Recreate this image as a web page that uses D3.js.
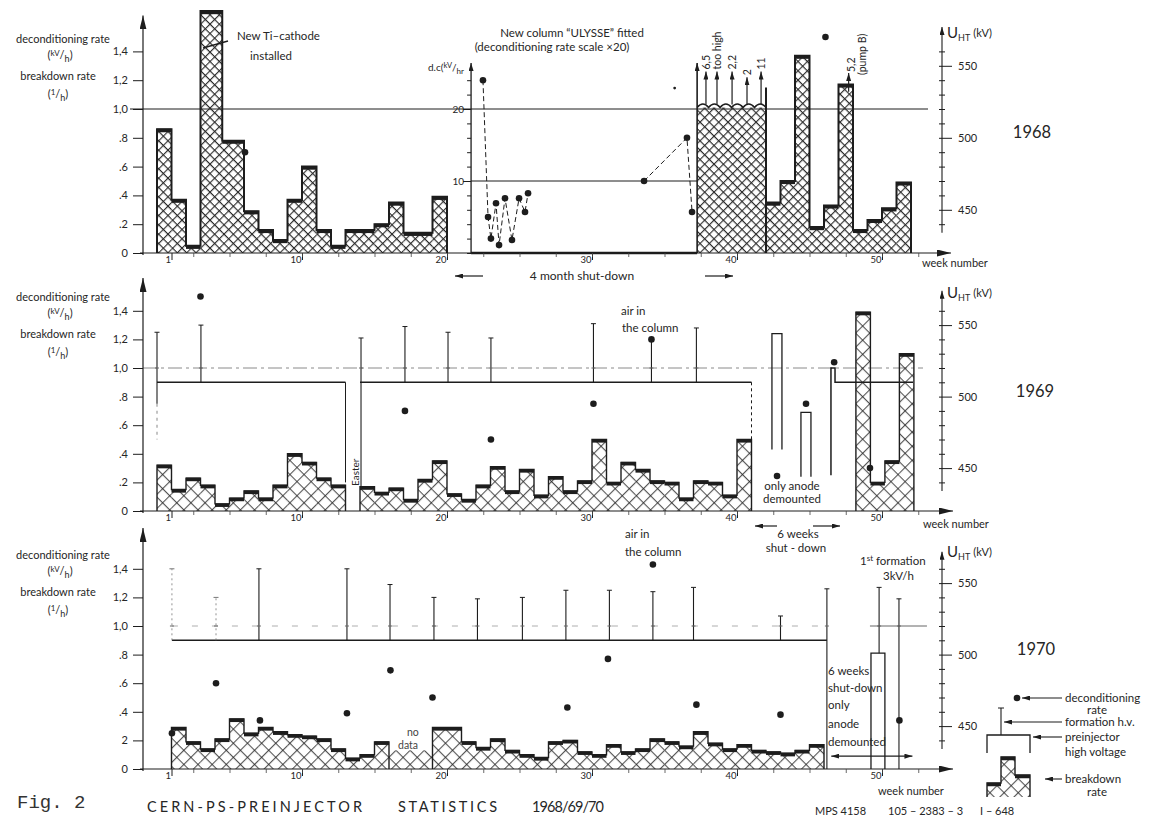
<!DOCTYPE html>
<html><head><meta charset="utf-8">
<script src="https://cdn.jsdelivr.net/npm/d3@7"></script>
<style>
html,body{margin:0;padding:0;background:#fff;}
svg{display:block;font-family:Lato,"Open Sans",sans-serif;}
</style></head><body>
<svg id="c" width="1154" height="820"></svg>
<script>
// ================= DATA =================
const yTickVals = [0, 0.2, 0.4, 0.6, 0.8, 1.0, 1.2, 1.4];
const yTickLabels = ["0", ".2", ".4", ".6", ".8", "1,0", "1,2", "1,4"];
const yTickLabels70 = ["0", "2", ".4", ".6", ".8", "1,0", "1,2", "1,4"];
const xTickVals = [1, 10, 20, 30, 40, 50];
const kvTickVals = [440, 450, 460, 470, 480, 490, 500, 510, 520, 530, 540, 550, 560];
const kvLabelVals = [450, 500, 550];

// ---- 1968 breakdown rate (bars: week from / to / rate 1/h)
const from68 = [0, 1, 2, 3, 4.5, 6, 7, 8, 9, 10, 11, 12, 13, 14, 15, 16, 17, 19, 42, 43, 44, 45, 46, 47, 48, 49, 50, 51];
const to68   = [1, 2, 3, 4.5, 6, 7, 8, 9, 10, 11, 12, 13, 14, 15, 16, 17, 19, 20, 43, 44, 45, 46, 47, 48, 49, 50, 51, 52];
const rate68 = [0.86, 0.37, 0.05, 1.68, 0.78, 0.29, 0.16, 0.09, 0.37, 0.60, 0.16, 0.05, 0.16, 0.16, 0.20, 0.35, 0.14, 0.39,
                0.35, 0.50, 1.37, 0.18, 0.33, 1.17, 0.16, 0.23, 0.31, 0.49];
const block68 = [37.25, 42, 1.01, 1.32, 1.15];          // from, to, rate (off scale), left-edge top, right-edge top
const arrow68Weeks = [37.86, 38.62, 39.66, 40.69, 41.66];
const arrow68Tops = [1.26, 1.26, 1.26, 1.22, 1.26];
const arrow68Labels = ["6,5", "too high", "2,2", "2", "11"];
const pump68 = [47.7, 1.12, 1.25];                      // week, arrow from, arrow to
const dot68Weeks = [6.07, 46.1];
const dot68Vals = [0.70, 1.50];
// ULYSSE column deconditioning rate (kV/h, scale x20)
const dcWeeks1 = [22.48, 22.83, 23.03, 23.38, 23.59, 24.0, 24.48, 24.97, 25.38, 25.59];
const dcVals1  = [24, 5, 2, 6.9, 1.1, 7.6, 1.8, 7.6, 5.7, 8.3];
const dcWeeks2 = [33.59, 36.55, 36.9];
const dcVals2  = [10, 16, 5.7];
const dcAxisWeek = 21.66;
const dcTicks = [0, 2, 4, 6, 8, 10, 12, 14, 16, 18, 20, 22, 24];

// ---- 1969
const from69 = [0, 1, 2, 3, 4, 5, 6, 7, 8, 9, 10, 11, 12, 14, 15, 16, 17, 18, 19,
                20, 21, 22, 23, 24, 25, 26, 27, 28, 29, 30, 31, 32, 33, 34, 35, 36, 37, 38, 39, 40,
                48.2, 49.2, 50.2, 51.2];
const to69   = [1, 2, 3, 4, 5, 6, 7, 8, 9, 10, 11, 12, 13, 15, 16, 17, 18, 19, 20,
                21, 22, 23, 24, 25, 26, 27, 28, 29, 30, 31, 32, 33, 34, 35, 36, 37, 38, 39, 40, 41,
                49.2, 50.2, 51.2, 52.2];
const rate69 = [0.32, 0.15, 0.23, 0.18, 0.05, 0.09, 0.14, 0.09, 0.18, 0.40, 0.34, 0.23, 0.18,
                0.17, 0.13, 0.16, 0.08, 0.22, 0.35,
                0.12, 0.08, 0.18, 0.31, 0.14, 0.29, 0.11, 0.24, 0.14, 0.21, 0.50, 0.20, 0.34, 0.29, 0.21, 0.20, 0.09, 0.21, 0.20, 0.11, 0.50,
                1.39, 0.20, 0.35, 1.10];
const hv69From = [0, 14];
const hv69To = [13, 41];
const hv69Rate = [0.9, 0.9];
const hvStep69Weeks = [46.48, 46.48, 46.76, 46.76, 52.14];
const hvStep69Rates = [0.25, 1.0, 1.0, 0.9, 0.9];
const form69Weeks = [0, 3.03, 14.07, 17.1, 20.07, 23.03, 30.1, 34.1, 37.2];
const form69Top = [1.25, 1.30, 1.21, 1.29, 1.25, 1.21, 1.31, 1.20, 1.28];
const form69Bottom = [0.75, 0.9, 0.17, 0.9, 0.9, 0.9, 0.9, 0.9, 0.9];
const open69From = [42.41, 44.41];
const open69To = [43.1, 45.1];
const open69Top = [1.24, 0.69];
const open69Bottom = [0.43, 0.24];
const dot69Weeks = [3.0, 17.1, 23.03, 30.1, 34.1, 42.76, 44.76, 46.7, 49.17];
const dot69Vals = [1.50, 0.70, 0.50, 0.75, 1.20, 0.245, 0.75, 1.04, 0.30];

// ---- 1970
const from70 = [1, 2, 3, 4, 5, 6, 7, 8, 9, 10, 11, 12, 13, 14, 15, 19,
                21, 22, 23, 24, 25, 26, 27, 28, 29, 30, 31, 32, 33, 34, 35, 36, 37, 38, 39, 40, 41, 42, 43, 44, 45];
const to70   = [2, 3, 4, 5, 6, 7, 8, 9, 10, 11, 12, 13, 14, 15, 16, 21,
                22, 23, 24, 25, 26, 27, 28, 29, 30, 31, 32, 33, 34, 35, 36, 37, 38, 39, 40, 41, 42, 43, 44, 45, 46];
const rate70 = [0.29, 0.19, 0.14, 0.21, 0.35, 0.25, 0.29, 0.26, 0.24, 0.23, 0.21, 0.14, 0.075, 0.10, 0.19, 0.29,
                0.19, 0.15, 0.21, 0.13, 0.10, 0.08, 0.19, 0.20, 0.12, 0.10, 0.17, 0.12, 0.14, 0.21, 0.19, 0.16, 0.26,
                0.18, 0.14, 0.17, 0.13, 0.12, 0.11, 0.13, 0.17];
const noData70 = [16, 19, 0.13];
const hv70 = [1.03, 46.2, 0.9];
const form70Weeks = [1.03, 4.07, 7.03, 13.1, 16.07, 19.1, 22.1, 25.2, 28.2, 31.2, 34.2, 37.0, 43.0, 46.2, 49.8, 51.17];
const form70Top = [1.40, 1.20, 1.40, 1.40, 1.29, 1.20, 1.19, 1.20, 1.25, 1.25, 1.24, 1.27, 1.07, 1.26, 1.27, 1.19];
const form70Bottom = [0.9, 0.9, 0.9, 0.9, 0.9, 0.9, 0.9, 0.9, 0.9, 0.9, 0.9, 0.9, 0.9, 0, 0.81, 0];
const open70 = [49.24, 50.2, 0.81];
const ref70Right = [49.17, 53.1];
const dot70Weeks = [1.03, 4.07, 7.1, 13.1, 16.1, 19.0, 28.3, 31.1, 34.2, 37.2, 43.0, 51.2];
const dot70Vals = [0.25, 0.60, 0.34, 0.39, 0.69, 0.50, 0.43, 0.77, 1.43, 0.45, 0.38, 0.34];
const shut70Arrow = [46.5, 52.1, 0.09];

// ================= DRAWING =================
const INK = "#1d1d1d";
const TXT = "#262626";
const svg = d3.select("#c");
svg.append("rect").attr("width", 1154).attr("height", 820).attr("fill", "#fff");
const defs = svg.append("defs");

function hatch(id, w, sw) {
  defs.append("pattern").attr("id", id).attr("patternUnits", "userSpaceOnUse")
    .attr("width", w).attr("height", w).attr("patternTransform", "rotate(45)")
    .append("path").attr("d", `M0,0.6 H${w} M0.6,0 V${w}`)
    .attr("stroke", "#2a2a2a").attr("stroke-width", sw).attr("fill", "none");
}
hatch("h1", 6.6, 1.1);
hatch("h2", 10, 0.9);

function marker(id, w, h) {
  defs.append("marker").attr("id", id).attr("markerUnits", "userSpaceOnUse")
    .attr("markerWidth", w).attr("markerHeight", h).attr("refX", w).attr("refY", h / 2)
    .attr("orient", "auto-start-reverse")
    .append("path").attr("d", `M0,0 L${w},${h / 2} L0,${h} Z`).attr("fill", INK);
}
marker("ax", 14, 7);
marker("sm", 8, 5);

const x = d3.scaleLinear().domain([0, 53]).range([157, 925.5]);
const y68 = d3.scaleLinear().domain([0, 1]).range([253, 109]);
const y69 = d3.scaleLinear().domain([0, 1]).range([511, 368]);
const y70 = d3.scaleLinear().domain([0, 1]).range([769, 626]);

const g = svg.append("g");

function txt(px, py, s, size, anchor, extra) {
  const t = g.append("text").attr("x", px).attr("y", py).attr("font-size", size)
    .attr("fill", TXT).attr("text-anchor", anchor || "start").text(s);
  if (extra) extra(t);
  return t;
}
function rtxt(px, py, s, size) {
  return g.append("text").attr("transform", `translate(${px},${py}) rotate(-90)`)
    .attr("font-size", size).attr("fill", TXT).text(s);
}
function line(x1, y1, x2, y2, w, extra) {
  const l = g.append("line").attr("x1", x1).attr("y1", y1).attr("x2", x2).attr("y2", y2)
    .attr("stroke", INK).attr("stroke-width", w || 1);
  if (extra) extra(l);
  return l;
}

function bars(y, from, to, rate, pat, sw) {
  const gb = g.append("g");
  gb.selectAll("rect.f").data(rate).join("rect").attr("class", "f")
    .attr("x", (d, i) => x(from[i])).attr("width", (d, i) => x(to[i]) - x(from[i]))
    .attr("y", d => y(d)).attr("height", d => y(0) - y(d)).attr("fill", `url(#${pat})`);
  const p = d3.path();
  rate.forEach((v, i) => {
    if (i === 0 || from[i] !== to[i - 1]) {
      if (i > 0) p.lineTo(x(to[i - 1]), y(0));
      p.moveTo(x(from[i]), y(0));
    }
    p.lineTo(x(from[i]), y(v));
    p.lineTo(x(to[i]), y(v));
  });
  p.lineTo(x(to[to.length - 1]), y(0));
  gb.append("path").attr("d", p.toString()).attr("fill", "none").attr("stroke", INK)
    .attr("stroke-width", sw).attr("stroke-linejoin", "miter");
  gb.selectAll("rect.c").data(rate).join("rect").attr("class", "c")
    .attr("x", (d, i) => x(from[i])).attr("width", (d, i) => x(to[i]) - x(from[i]))
    .attr("y", d => y(d) - 0.5).attr("height", 3.6).attr("fill", INK);
}

function dots(y, weeks, vals, r) {
  g.append("g").selectAll("circle").data(vals).join("circle")
    .attr("cx", (d, i) => x(weeks[i])).attr("cy", d => y(d)).attr("r", r || 3.3).attr("fill", INK);
}

function formation(y, weeks, tops, bottoms, dottedCount) {
  weeks.forEach((w, i) => {
    const faint = i < (dottedCount || 0);
    line(x(w), y(bottoms[i]), x(w), y(tops[i]), faint ? 0.8 : 1.1, l => {
      if (faint) l.attr("stroke-dasharray", "2,3").attr("stroke", "#777");
    });
    line(x(w) - 2.5, y(tops[i]), x(w) + 2.5, y(tops[i]), 1, l => { if (faint) l.attr("stroke", "#777"); });
    if (tops[i] > 1.02 && bottoms[i] < 0.98)
      line(x(w) - 2, y(1), x(w) + 2, y(1), 1, l => l.attr("stroke", "#666"));
  });
}

function kvLabel(t) {
  t.append("tspan").attr("font-size", 15).text("U");
  t.append("tspan").attr("font-size", 9).attr("dy", 3).text("HT");
  t.append("tspan").attr("font-size", 11).attr("dy", -4).attr("dx", 3).text("(kV)");
}

function leftLabels(y0) {
  txt(63, y0 - 210, "deconditioning rate", 11, "middle");
  txt(60, y0 - 194, "", 11, "middle", t => {
    t.append("tspan").text("(");
    t.append("tspan").attr("font-size", 8).attr("dy", -3).text("kV");
    t.append("tspan").attr("dy", 3).text("/");
    t.append("tspan").attr("font-size", 9).attr("dy", 3).text("h");
    t.append("tspan").attr("dy", -3).text(")");
  });
  txt(58, y0 - 173, "breakdown rate", 11, "middle");
  txt(58, y0 - 155, "", 11, "middle", t => {
    t.append("tspan").text("(");
    t.append("tspan").attr("font-size", 8).attr("dy", -3).text("1");
    t.append("tspan").attr("dy", 3).text("/");
    t.append("tspan").attr("font-size", 9).attr("dy", 3).text("h");
    t.append("tspan").attr("dy", -3).text(")");
  });
}

function axes(y, labels, yTop, kvTop, wnX, wnY, uhtY, xEnd) {
  const kv = d3.scaleLinear().domain([420, 520]).range(y.range());
  const z = y(0);
  // left axis
  const la = g.append("g").attr("transform", "translate(143,0)")
    .call(d3.axisLeft(y).tickValues(yTickVals).tickFormat((d, i) => labels[i]).tickSize(10).tickPadding(5));
  la.select(".domain").remove();
  la.selectAll("line").attr("stroke", INK);
  la.selectAll("text").attr("font-size", 11).attr("fill", TXT).attr("font-family", "Lato");
  line(143, z + 2, 143, y(yTop), 1.2, l => l.attr("marker-end", "url(#ax)"));
  // bottom axis
  line(140, z, xEnd, z, 1.2, l => l.attr("marker-end", "url(#ax)"));
  const ba = g.append("g").attr("transform", `translate(0,${z})`)
    .call(d3.axisBottom(x).tickValues(xTickVals).tickSize(7).tickPadding(1));
  ba.select(".domain").remove();
  ba.selectAll("line").attr("stroke", INK);
  ba.selectAll("text").attr("font-size", 9.5).attr("fill", TXT).attr("text-anchor", "end")
    .attr("y", 3).attr("dx", -1).attr("font-family", "Lato");
  const mi = g.append("g").attr("transform", `translate(0,${z})`)
    .call(d3.axisBottom(x).tickValues(d3.range(2.5, 53, 2.5)).tickSize(4).tickFormat(""));
  mi.select(".domain").remove();
  mi.selectAll("line").attr("stroke", "#444").attr("stroke-width", 0.8);
  // right kV axis
  const ra = g.append("g").attr("transform", "translate(942,0)")
    .call(d3.axisRight(kv).tickValues(kvTickVals).tickSize(3).tickPadding(13)
      .tickFormat(d => kvLabelVals.includes(d) ? d : ""));
  ra.select(".domain").remove();
  ra.selectAll(".tick line").attr("stroke", INK)
    .attr("x1", -3).attr("x2", d => kvLabelVals.includes(d) ? 10 : 3);
  ra.selectAll("text").attr("font-size", 11).attr("fill", TXT).attr("font-family", "Lato");
  line(942, kv(434), 942, kv(kvTop), 1.1, l => l.attr("marker-end", "url(#sm)"));
  txt(947, uhtY, "", 15, "start", kvLabel);
  txt(wnX, wnY, "week number", 11, "start");
  leftLabels(z);
}

// ---------------- 1968 ----------------
(function () {
  const y = y68;
  const yDc = d3.scaleLinear().domain([0, 20]).range([253, 109]);
  line(130, y(1), 928, y(1), 1);
  g.append("rect").attr("x", x(block68[0])).attr("width", x(block68[1]) - x(block68[0]))
    .attr("y", y(block68[2])).attr("height", y(0) - y(block68[2])).attr("fill", "url(#h1)");
  const sc = d3.path();
  const nB = 6, bw = (x(block68[1]) - x(block68[0])) / nB;
  sc.moveTo(x(block68[0]), y(block68[2]));
  for (let i = 0; i < nB; i++) {
    const xa = x(block68[0]) + i * bw;
    sc.quadraticCurveTo(xa + bw / 2, y(block68[2]) - 7, xa + bw, y(block68[2]));
  }
  g.append("path").attr("d", sc.toString()).attr("fill", "none").attr("stroke", INK).attr("stroke-width", 1.5);
  line(x(block68[0]), y(0), x(block68[0]), y(block68[3]), 1.6, l => l.attr("marker-end", "url(#sm)"));
  line(x(block68[1]), y(0), x(block68[1]), y(block68[4]), 2);
  arrow68Weeks.forEach((w, i) => {
    line(x(w), y(block68[2]) - 3, x(w), y(arrow68Tops[i]), 1.2, l => l.attr("marker-end", "url(#sm)"));
    rtxt(x(w) + 4, y(arrow68Tops[i]) - 2, arrow68Labels[i], 10.5);
  });
  bars(y, from68, to68, rate68, "h1", 2);
  line(x(pump68[0]), y(pump68[1]), x(pump68[0]), y(pump68[2]), 1.2, l => l.attr("marker-end", "url(#sm)"));
  rtxt(x(pump68[0]) + 6, y(pump68[2]) - 1, "5,2", 10.5);
  rtxt(x(pump68[0]) + 17, y(pump68[2]) + 2, "(pump B)", 10.5);
  dots(y, dot68Weeks, dot68Vals);

  const xa = x(dcAxisWeek);
  line(xa, y(0), xa, yDc(26.4), 1.3, l => l.attr("marker-end", "url(#sm)"));
  const da = g.append("g").attr("transform", `translate(${xa},0)`)
    .call(d3.axisLeft(yDc).tickValues(dcTicks).tickSize(4)
      .tickFormat(d => (d === 10 || d === 20) ? d : ""));
  da.select(".domain").remove();
  da.selectAll("line").attr("stroke", INK);
  da.selectAll(".tick").filter(d => d === 10 || d === 20).select("line").attr("x2", -8);
  da.selectAll("text").attr("font-size", 10).attr("fill", TXT).attr("x", -7).attr("font-family", "Lato");
  line(xa, yDc(10), x(block68[0]), yDc(10), 1);
  line(xa, y(0), x(block68[0]), y(0), 2.6);
  txt(428, 71, "", 10, "start", t => {
    t.append("tspan").text("d.c(");
    t.append("tspan").attr("font-size", 7.5).attr("dy", -3).text("kV");
    t.append("tspan").attr("dy", 3).text("/");
    t.append("tspan").attr("font-size", 8).attr("dy", 3).text("hr");
  });
  const dl = d3.line().x(d => x(d[0])).y(d => yDc(d[1]));
  g.append("path").attr("d", dl(dcWeeks1.map((w, i) => [w, dcVals1[i]])))
    .attr("fill", "none").attr("stroke", INK).attr("stroke-dasharray", "5,3").attr("stroke-width", 1);
  g.append("path").attr("d", dl(dcWeeks2.map((w, i) => [w, dcVals2[i]])))
    .attr("fill", "none").attr("stroke", INK).attr("stroke-dasharray", "5,3").attr("stroke-width", 1);
  dots(yDc, dcWeeks1, dcVals1);
  dots(yDc, dcWeeks2, dcVals2);
  g.append("circle").attr("cx", x(35.7)).attr("cy", yDc(22.9)).attr("r", 1.4).attr("fill", INK);

  axes(y, yTickLabels, 1.65, 577, 922, 267, 38, 951);
  txt(1032, 138, "1968", 16.5, "middle");
  txt(237, 40, "New Ti\u2013cathode", 11.5);
  txt(250, 60, "installed", 11.5);
  line(203, 48, 228, 41, 1.3);
  txt(572, 37, "New  column  \u201CULYSSE\u201D  fitted", 11.5, "middle");
  txt(552, 51, "(deconditioning  rate  scale  \u00D720)", 11.5, "middle");
  txt(582, 280, "4 month shut-down", 12, "middle");
  line(483, 276, 455, 276, 1.2, l => l.attr("marker-end", "url(#sm)"));
  line(705, 276, 733, 276, 1.2, l => l.attr("marker-end", "url(#sm)"));
})();

// ---------------- 1969 ----------------
(function () {
  const y = y69;
  line(143, y(1), 923, y(1), 1, l => l.attr("stroke", "#8a8a8a").attr("stroke-dasharray", "14,4,3,4"));
  bars(y, from69, to69, rate69, "h2", 1.4);
  hv69From.forEach((f, i) => line(x(f), y(hv69Rate[i]), x(hv69To[i]), y(hv69Rate[i]), 1.5));
  line(x(hv69To[0]), y(0.9), x(hv69To[0]), y(0.2), 1);
  line(x(hv69To[1]), y(0.9), x(hv69To[1]), y(0.5), 1, l => l.attr("stroke-dasharray", "3,3"));
  line(x(form69Weeks[0]), y(0.75), x(form69Weeks[0]), y(0.5), 1, l => l.attr("stroke-dasharray", "3,4").attr("stroke", "#888"));
  const sl = d3.line().x(d => x(d[0])).y(d => y(d[1]));
  g.append("path").attr("d", sl(hvStep69Weeks.map((w, i) => [w, hvStep69Rates[i]])))
    .attr("fill", "none").attr("stroke", INK).attr("stroke-width", 1.5);
  formation(y, form69Weeks, form69Top, form69Bottom, 0);
  open69From.forEach((f, i) => {
    g.append("path").attr("d", `M${x(f)},${y(open69Bottom[i])} V${y(open69Top[i])} H${x(open69To[i])} V${y(open69Bottom[i])}`)
      .attr("fill", "none").attr("stroke", INK).attr("stroke-width", 1.3);
  });
  dots(y, dot69Weeks, dot69Vals);
  axes(y, yTickLabels, 1.63, 574, 923, 528, 298, 953);
  txt(1035, 397, "1969", 16.5, "middle");
  rtxt(359, 486, "Easter", 10);
  txt(621, 315, "air  in", 11.5);
  txt(622, 332, "the  column", 11.5);
  txt(792, 490, "only anode", 11.5, "middle");
  txt(792, 503, "demounted", 11.5, "middle");
  txt(798, 538, "6 weeks", 11.5, "middle");
  txt(796, 552, "shut - down", 11.5, "middle");
  line(777, 526, 755, 526, 1.2, l => l.attr("marker-end", "url(#sm)"));
  line(813, 526, 840, 526, 1.2, l => l.attr("marker-end", "url(#sm)"));
})();

// ---------------- 1970 ----------------
(function () {
  const y = y70;
  line(x(hv70[0]), y(1), x(hv70[1]), y(1), 0.8, l => l.attr("stroke", "#9a9a9a").attr("stroke-dasharray", "6,14"));
  line(x(ref70Right[0]), y(1), x(ref70Right[1]), y(1), 0.9, l => l.attr("stroke", "#555"));
  g.append("rect").attr("x", x(noData70[0])).attr("width", x(noData70[1]) - x(noData70[0]))
    .attr("y", y(noData70[2])).attr("height", y(0) - y(noData70[2])).attr("fill", "url(#h2)");
  bars(y, from70, to70, rate70, "h2", 1.4);
  line(x(hv70[0]), y(hv70[2]), x(hv70[1]), y(hv70[2]), 1.5);
  formation(y, form70Weeks, form70Top, form70Bottom, 2);
  g.append("path").attr("d", `M${x(open70[0])},${y(0)} V${y(open70[2])} H${x(open70[1])} V${y(0)}`)
    .attr("fill", "none").attr("stroke", INK).attr("stroke-width", 1.3);
  dots(y, dot70Weeks, dot70Vals);
  line(x(shut70Arrow[0]), y(shut70Arrow[2]), x(shut70Arrow[1]), y(shut70Arrow[2]), 1.3,
    l => l.attr("marker-end", "url(#sm)").attr("marker-start", "url(#sm)"));
  axes(y, yTickLabels70, 1.685, 572, 878, 795, 557, 953);
  txt(1036, 655, "1970", 16.5, "middle");
  txt(407, 736, "no", 10.5, "start", t => t.attr("fill", "#444"));
  txt(398, 749, "data", 10.5, "start", t => t.attr("fill", "#444"));
  txt(625, 538, "air  in", 11.5);
  txt(625, 556, "the  column", 11.5);
  txt(860, 565, "", 11.5, "start", t => {
    t.append("tspan").text("1");
    t.append("tspan").attr("font-size", 8).attr("dy", -4).text("st");
    t.append("tspan").attr("dy", 4).text(" formation");
  });
  txt(883, 580, "3kV/h", 11.5);
  ["6 weeks", "shut-down", "only", "anode", "demounted"].forEach((s, i) =>
    txt(828, [675, 692, 709, 728, 746][i], s, 11.5));
})();

// ---------------- legend ----------------
(function () {
  g.append("circle").attr("cx", 1017).attr("cy", 698).attr("r", 3.3).attr("fill", INK);
  line(1062, 698, 1022, 698, 1.1, l => l.attr("marker-end", "url(#sm)"));
  txt(1065, 702, "deconditioning", 11.5);
  txt(1097, 714, "rate", 11.5, "middle");
  line(1001, 735, 1001, 708, 1.1);
  line(998, 708, 1004, 708, 1);
  line(1062, 722, 1004, 722, 1.1, l => l.attr("marker-end", "url(#sm)"));
  txt(1065, 726, "formation h.v.", 11.5);
  g.append("path").attr("d", "M987,753 V735 H1030 V753").attr("fill", "none").attr("stroke", INK).attr("stroke-width", 1.3);
  line(1062, 737, 1033, 737, 1.1, l => l.attr("marker-end", "url(#sm)"));
  txt(1065, 741, "preinjector", 11.5);
  txt(1065, 756, "high voltage", 11.5);
  g.append("path").attr("d", "M987,797 V783 H1001 V757 H1015 V775 H1030 V797 Z").attr("fill", "url(#h2)");
  g.append("path").attr("d", "M987,797 V783 H1001 V757 H1015 V775 H1030 V797").attr("fill", "none").attr("stroke", INK).attr("stroke-width", 1.4);
  g.append("path").attr("d", "M987,783 H1001 M1001,757 H1015 M1015,775 H1030").attr("stroke", INK).attr("stroke-width", 3.5).attr("transform", "translate(0,1.5)");
  line(1062, 779, 1045, 779, 1.1, l => l.attr("marker-end", "url(#sm)"));
  txt(1065, 783, "breakdown", 11.5);
  txt(1097, 796, "rate", 11.5, "middle");
})();

// ---------------- footer ----------------
g.append("text").attr("x", 17).attr("y", 808).attr("font-family", "Liberation Mono, DejaVu Sans Mono, monospace")
  .attr("font-size", 19).attr("fill", "#333").text("Fig. 2");
txt(147, 812, "CERN-PS-PREINJECTOR", 14.5, "start", t => t.attr("textLength", 215).attr("lengthAdjust", "spacing"));
txt(398, 812, "STATISTICS", 14.5, "start", t => t.attr("textLength", 99).attr("lengthAdjust", "spacing"));
txt(532, 812, "1968/69/70", 14.5, "start", t => t.attr("textLength", 72).attr("lengthAdjust", "spacing"));
txt(815, 815, "MPS 4158", 11);
txt(888, 815, "105 \u2013 2383 \u2013 3", 11);
txt(980, 815, "I \u2013 648", 11);
</script>
</body></html>
